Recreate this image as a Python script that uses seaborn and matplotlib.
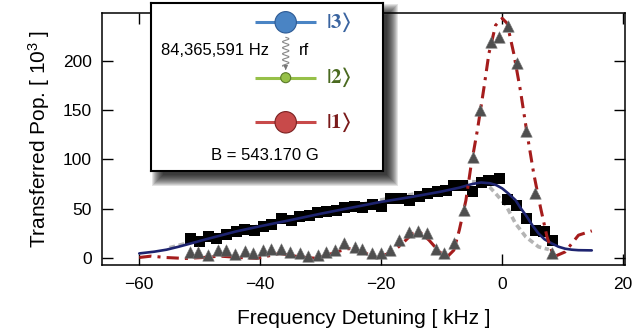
import numpy as np
import seaborn as sns
import matplotlib.pyplot as plt
from matplotlib import patches

# black squares: |2> population
sq_freq = [-51.6, -50.0, -48.6, -47.2, -45.6, -43.9, -42.6, -40.9, -39.5, -38.2,
           -36.5, -34.9, -33.5, -31.8, -30.5, -29.1, -27.4, -26.1, -24.4, -23.1,
           -21.4, -20.0, -18.4, -16.7, -15.4, -13.7, -12.4, -10.7, -9.3, -8.0,
           -6.6, -4.9, -3.5, -2.2, -0.5, 0.8, 2.3, 4.0, 5.5, 6.9, 8.3]
sq_pop = [19.9, 16.4, 22.2, 19.9, 24.2, 26.6, 29.0, 28.3, 32.3, 34.4,
          40.1, 38.4, 41.8, 43.5, 45.9, 47.6, 48.6, 51.3, 52.6, 51.3,
          54.7, 52.6, 60.4, 60.4, 58.7, 62.0, 65.5, 67.1, 68.8, 73.9,
          73.9, 67.1, 77.0, 79.0, 80.7, 59.5, 53.6, 40.2, 28.3, 26.6, 18.2]

# grey triangles: |1> population
tri_freq = [-51.6, -50.3, -48.6, -47.0, -45.6, -44.2, -42.6, -41.2, -39.5, -38.2,
            -36.5, -35.1, -33.5, -32.1, -30.5, -29.1, -27.7, -26.1, -24.4, -23.1,
            -21.5, -20.0, -18.5, -17.0, -15.4, -14.0, -12.4, -11.0, -9.6, -8.0,
            -6.3, -4.9, -3.6, -1.9, -0.5, 1.0, 2.5, 4.0, 5.4, 8.3]
tri_pop = [6.3, 6.3, 3.0, 8.0, 8.0, 4.0, 7.0, 4.7, 8.0, 8.7,
           9.7, 6.3, 4.7, 2.2, 3.0, 6.3, 8.0, 15.4, 11.4, 9.7,
           5.5, 5.5, 8.0, 18.2, 26.6, 27.6, 25.6, 9.7, 4.7, 14.8,
           48.6, 102.6, 150.0, 219.0, 224.0, 235.0, 198.0, 129.0, 65.5, 4.7]

# fit curves
blue_freq = [-60, -57.5, -55.5, -53.5, -51.5, -49, -47, -44, -40, -35, -30, -25,
             -20, -15, -10, -7, -5, -3.5, -2, -1, 0, 1, 2.2, 3, 3.9, 5, 6, 7,
             8.2, 9.3, 10.4, 11.5, 12.6, 14.8]
blue_pop = [4.7, 6.5, 8.5, 11.5, 14.8, 19, 22.2, 27, 32.3, 38.5, 45, 51,
            57, 62, 67.5, 71.5, 75, 76.6, 75.8, 74, 70.6, 65.5, 58.7, 51, 43.5, 33, 24.9, 19,
            14.8, 11.5, 9.5, 8.5, 8, 7.8]

grey_freq = [-55, -50, -45, -40, -35, -30, -25, -20, -15, -10, -7, -5, -3.5,
             -2, -1.1, 0.6, 2.2, 3.9, 6, 7.7]
grey_pop = [10.5, 18.5, 26, 33, 39.5, 46, 52, 59, 64.5, 70.5, 75.5, 77.5, 77,
            71.5, 65.5, 53.6, 35, 21.5, 11.4, 8.7]

red_freq = [-60, -58, -55.7, -52.4, -49.4, -46.7, -43.4, -40.6, -36.8, -33.5,
            -30.5, -27.4, -25.3, -23.1, -20.8, -18.1, -16.5, -14.8, -13.7, -12.1,
            -10.4, -9.1, -8, -7.1, -6, -5.2, -4.1, -3, -2.2, -1.1, 0, 0.8, 1.9,
            3, 4.1, 5.2, 6.3, 7.4, 8.5, 10.4, 12.6, 14.8]
red_pop = [0.6, 2, 0.6, -0.4, 0.6, 2, 0.6, -0.4, 4.7, 1.2,
           -0.4, 6.3, 9.7, 6.3, 0, 6.3, 14.8, 25, 26.6, 18.2,
           6.3, 1.2, 8, 28.3, 58.7, 92, 130, 173.6, 207.5, 236, 243, 238, 207.5,
           170, 126.4, 85.8, 52, 21.5, 1.2, 6.3, 23.2, 27.6]

xticks = [-60, -40, -20, 0, 20]
yticks = [0, 50, 100, 150, 200]

sns.set_style('ticks')
plt.rcParams['font.family'] = ['Liberation Sans', 'DejaVu Sans']
plt.rcParams.update({'text.color': 'black', 'axes.labelcolor': 'black',
                     'xtick.color': 'black', 'ytick.color': 'black',
                     'axes.edgecolor': 'black',
                     'xtick.direction': 'in', 'ytick.direction': 'in'})

fig = plt.figure(figsize=(6.32, 3.35), dpi=100)
ax = fig.add_axes([0.161, 0.209, 0.828, 0.753])

sns.lineplot(x=grey_freq, y=grey_pop, ax=ax, sort=False, estimator=None,
             color='#b4b4b4', linewidth=2.6, linestyle=(0, (1.6, 1.0)), zorder=2)
sns.scatterplot(x=sq_freq, y=sq_pop, ax=ax, marker='s', s=64, color='black',
                edgecolor='none', zorder=3)
sns.lineplot(x=blue_freq, y=blue_pop, ax=ax, sort=False, estimator=None,
             color='#1e2470', linewidth=1.9, zorder=4)
sns.lineplot(x=red_freq, y=red_pop, ax=ax, sort=False, estimator=None,
             color='#a51c1c', linewidth=2.2, linestyle=(0, (4, 2, 1, 2)), zorder=5)
sns.scatterplot(x=tri_freq, y=tri_pop, ax=ax, marker='^', s=68, color='#4f4f4f',
                edgecolor='#777777', linewidth=0.4, zorder=6)

ax.set_xlim(-66.2, 20.3)
ax.set_ylim(-7, 248.7)
ax.set_xticks(xticks)
ax.set_yticks(yticks)
ax.tick_params(direction='in', length=8, width=1, labelsize=12.5, colors='black',
               top=True, right=True, pad=7)
ax.tick_params(axis='x', pad=9)
for sp in ax.spines.values():
    sp.set_linewidth(1.1)
    sp.set_color('black')
ax.set_xlabel('Frequency Detuning [ kHz ]', fontsize=15, labelpad=12)
ax.set_ylabel(r'Transferred Pop. [ $\mathregular{10^3}$ ]', fontsize=15, labelpad=8)

# inset level diagram with drop shadow
bx, by, bw, bh = 151, 335 - 170.7, 231.7, 167.4
W, H = 632, 335
for k in range(12):
    d = -4 + k * 1.0
    fig.patches.append(patches.Rectangle(((bx + 8 - d) / W, (by - 8 - d) / H),
                                         (bw + 2 * d) / W, (bh + 2 * d) / H,
                                         transform=fig.transFigure, facecolor='black',
                                         edgecolor='none', alpha=0.11, zorder=1))

ins = fig.add_axes([bx / W, by / H, bw / W, bh / H])
ins.set_zorder(5)
ins.set_xlim(0, bw)
ins.set_ylim(bh, 0)
ins.set_xticks([])
ins.set_yticks([])
ins.set_facecolor('white')
for sp in ins.spines.values():
    sp.set_linewidth(1.5)
    sp.set_color('black')

levels = [
    (19, '#4a84c4', '#2d5a94', 10.7, r'$\mathbf{|3\rangle}$', '#3a64a0'),
    (74.4, '#96c048', '#5a7a28', 5, r'$\mathbf{|2\rangle}$', '#4a6a20'),
    (119, '#c84a4a', '#7a2020', 10.7, r'$\mathbf{|1\rangle}$', '#7a1a1a'),
]
cx = 134.7
for yy, fc, ec, r, lab, tc in levels:
    ins.plot([104, 165], [yy, yy], color=fc, lw=2.2, solid_capstyle='butt', zorder=1)
    ins.add_patch(patches.Circle((cx, yy), r, facecolor=fc, edgecolor=ec, lw=0.8, zorder=2))
    ins.text(175, yy, lab, color=tc, fontsize=15, va='center', ha='left',
             math_fontfamily='stix')

yw = np.linspace(34, 63, 200)
ins.plot(cx + 3.2 * np.sin(2 * np.pi * (yw - 34) / 6), yw, color='#888888', lw=0.8)
ins.annotate('', xy=(cx, 69.5), xytext=(cx, 62.5),
             arrowprops=dict(arrowstyle='-|>', color='#777777', lw=0.8, mutation_scale=6))
ins.text(10, 47, '84,365,591 Hz', fontsize=12, va='center', ha='left')
ins.text(148, 47, 'rf', fontsize=12, va='center', ha='left')
ins.text(114, 152.4, 'B = 543.170 G', fontsize=12, va='center', ha='center')

fig.savefig('out.png', dpi=100)
